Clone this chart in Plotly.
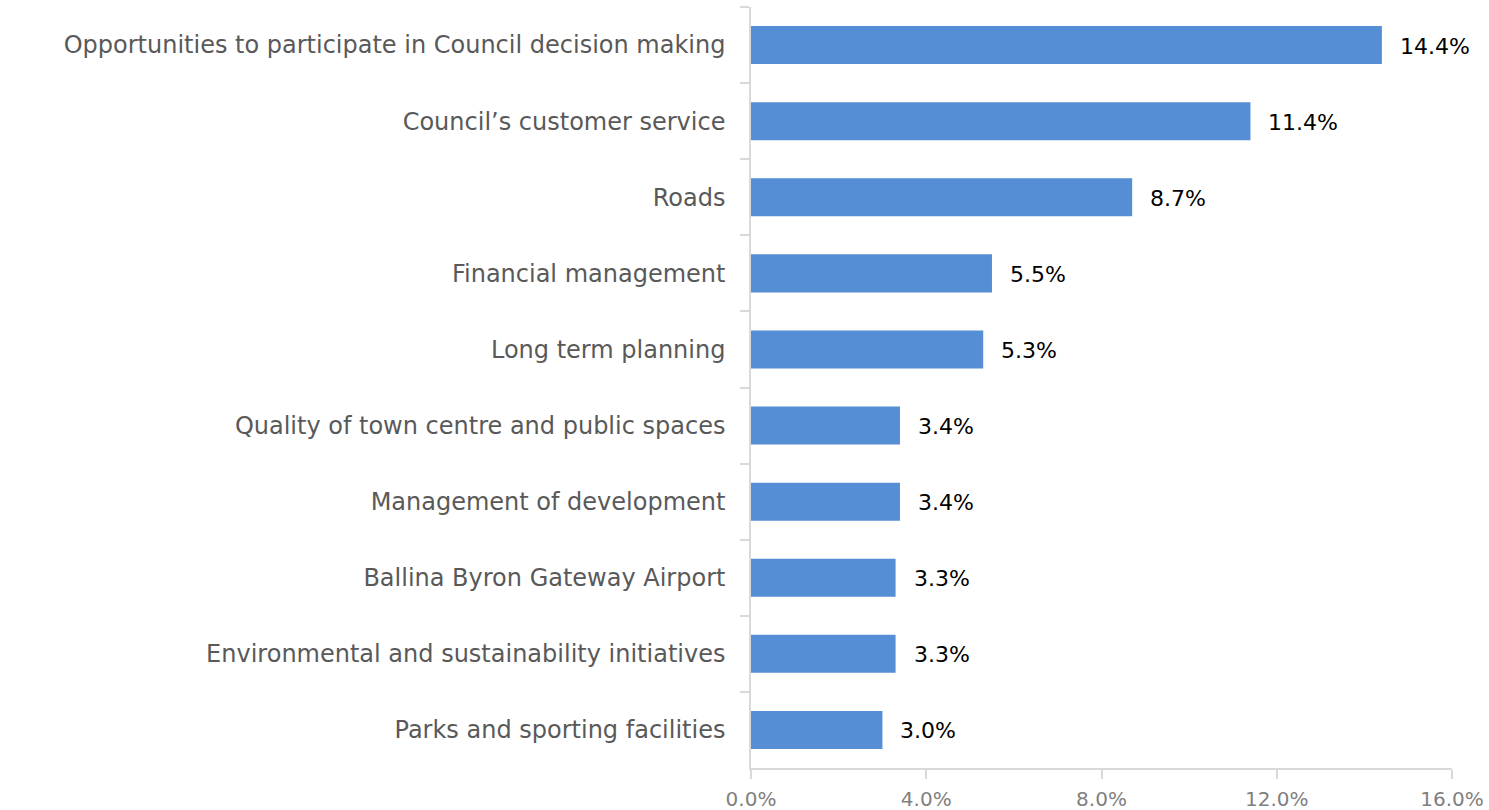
import plotly.graph_objects as go

categories = [
    "Opportunities to participate in Council decision making",
    "Council\u2019s customer service",
    "Roads",
    "Financial management",
    "Long term planning",
    "Quality of town centre and public spaces",
    "Management of development",
    "Ballina Byron Gateway Airport",
    "Environmental and sustainability initiatives",
    "Parks and sporting facilities",
]
values = [14.4, 11.4, 8.7, 5.5, 5.3, 3.4, 3.4, 3.3, 3.3, 3.0]
tick_vals = [0, 4, 8, 12, 16]
tick_text = ["0.0%", "4.0%", "8.0%", "12.0%", "16.0%"]

FONT = "DejaVu Sans"
AXIS_GREY = "#d9d9d9"

fig = go.Figure(
    go.Bar(
        x=values,
        y=categories,
        orientation="h",
        width=0.5,
        marker=dict(color="#558ed5", line=dict(width=0)),
        hoverinfo="skip",
    )
)

# value labels to the right of each bar
for cat, v in zip(categories, values):
    fig.add_annotation(
        x=v, y=cat, text=f"{v:.1f}%", showarrow=False,
        xanchor="left", yanchor="middle", xshift=16, yshift=-1,
        font=dict(family=FONT, size=22, color="#000000"),
    )

fig.update_layout(
    width=1489, height=810,
    margin=dict(l=751, r=37, t=7, b=42),
    paper_bgcolor="white", plot_bgcolor="white",
    showlegend=False,
    xaxis=dict(
        range=[0, 16], tickvals=tick_vals, ticktext=tick_text,
        automargin=False,
        showgrid=False, zeroline=False,
        showline=True, linecolor=AXIS_GREY, linewidth=1.5,
        ticks="outside", ticklen=9, tickcolor=AXIS_GREY, tickwidth=1.5,
        ticklabelstandoff=3,
        tickfont=dict(family=FONT, size=20, color="#7f7f7f"),
    ),
    yaxis=dict(
        autorange="reversed", showgrid=False, zeroline=False,
        automargin=False,
        showline=True, linecolor=AXIS_GREY, linewidth=1.5,
        ticks="outside", ticklen=9, tickcolor=AXIS_GREY, tickwidth=1.5,
        tickson="boundaries", ticklabelstandoff=19,
        tickfont=dict(family=FONT, size=24, color="#595959"),
    ),
)

fig.write_html("out.html")
